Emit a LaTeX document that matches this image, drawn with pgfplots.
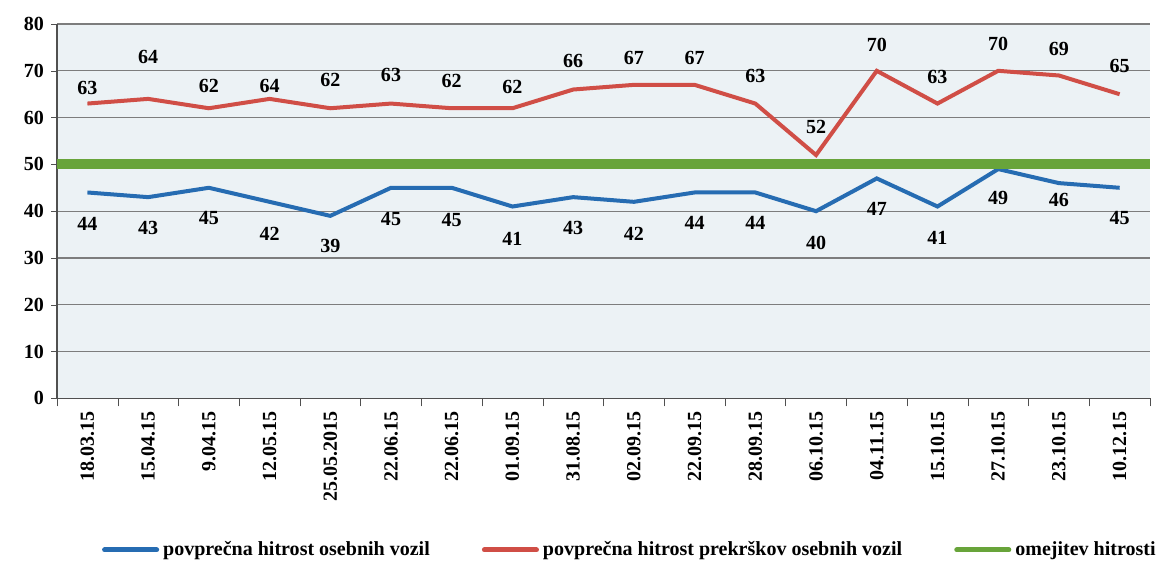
\documentclass[border=0pt]{standalone}
\usepackage{fontspec}
\setmainfont{Liberation Serif}
\usepackage{pgfplots}
\pgfplotsset{compat=1.18}
\usepackage{pgfplotstable}
\usetikzlibrary{calc}

\definecolor{cblue}{RGB}{38,108,178}
\definecolor{cred}{RGB}{208,78,70}
\definecolor{cgreen}{RGB}{104,164,58}
\definecolor{cbg}{RGB}{236,242,245}
\definecolor{cgrid}{RGB}{125,125,125}
\definecolor{caxis}{RGB}{80,80,80}

% x = category index, bo/ro = label offsets (pt) for blue/red
\pgfplotstableread{
x blue red bo ro
0 44 63 -15.5 8
1 43 64 -15.5 21
2 45 62 -15 11
3 42 64 -16 6.5
4 39 62 -15 14
5 45 63 -15.5 14.5
6 45 62 -16 13.5
7 41 62 -16 10.5
8 43 66 -15.5 14.5
9 42 67 -16 13.5
10 44 67 -15 13.5
11 44 63 -15 14
12 40 52 -16 14
13 47 70 -15 13
14 41 63 -15.5 13.5
15 49 70 -14.5 13.5
16 46 69 -8.5 13
17 45 65 -15 14
}\speeds

\pgfplotstableread{
x lim
-0.5 50
17.5 50
}\limit

\begin{document}
\begin{tikzpicture}
\begin{axis}[
  name=ax,
  scale only axis, width=546pt, height=187pt,
  xmin=-0.5, xmax=17.5, ymin=0, ymax=80,
  ytick={0,10,...,80},
  xtick={0,...,17},
  xticklabels={18.03.15,15.04.15,9.04.15,12.05.15,25.05.2015,22.06.15,22.06.15,01.09.15,31.08.15,02.09.15,22.09.15,28.09.15,06.10.15,04.11.15,15.10.15,27.10.15,23.10.15,10.12.15},
  minor xtick={-0.5,0.5,...,17.5},
  major x tick style={draw=none},
  minor x tick style={caxis},
  major y tick style={caxis},
  major tick length=3pt, minor tick length=4pt,
  tick align=outside,
  axis x line*=bottom, axis y line*=left,
  axis line style={caxis, line width=0.7pt},
  ymajorgrids, grid style={cgrid, line width=0.6pt},
  axis background/.style={fill=cbg},
  /pgf/number format/assume math mode=true,
  x tick label style={rotate=90, anchor=east, font=\bfseries},
  y tick label style={font=\bfseries},
  clip=false,
  legend style={at={(0.525,-0.405)}, anchor=center, draw=none, fill=none,
    font=\bfseries, legend columns=3,
    /tikz/every even column/.append style={column sep=24pt}},
  legend image code/.code={\draw[#1, line width=2.5pt, line cap=round] (0pt,0pt) -- (26pt,0pt);},
]
\addplot[cblue, line width=2pt,
  visualization depends on={\thisrow{bo}\as\lblofs},
  nodes near coords,
  nodes near coords style={font=\bfseries, text=black, anchor=center, yshift=\lblofs pt}]
  table[x=x, y=blue] {\speeds};
\addlegendentry{povprečna hitrost osebnih vozil}
\addplot[cred, line width=2pt,
  visualization depends on={\thisrow{ro}\as\lblofs},
  nodes near coords,
  nodes near coords style={font=\bfseries, text=black, anchor=center, yshift=\lblofs pt}]
  table[x=x, y=red] {\speeds};
\addlegendentry{povprečna hitrost prekrškov osebnih vozil}
\addplot[cgreen, line width=5pt] table[x=x, y=lim] {\limit};
\addlegendentry{omejitev hitrosti}
\end{axis}
\pgfresetboundingbox
\path ($(ax.south west)+(-28.5pt,-82.5pt)$) rectangle ($(ax.north east)+(5pt,12pt)$);
\end{tikzpicture}
\end{document}
